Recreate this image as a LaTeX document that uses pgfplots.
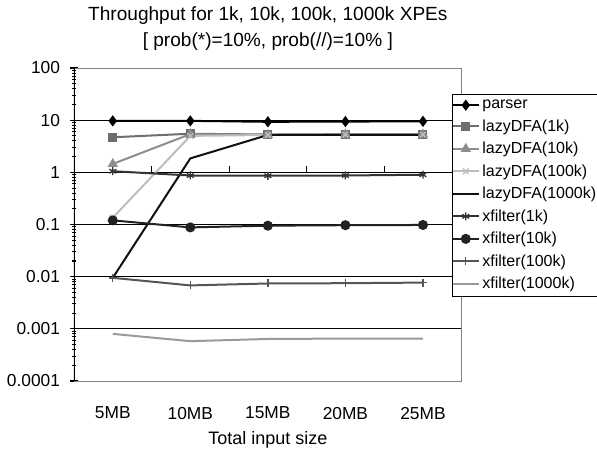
\documentclass[border=0pt]{standalone}
\usepackage{fontspec}
\setmainfont{Liberation Sans}
\usepackage{pgfplots}
\pgfplotsset{compat=1.18}

\definecolor{cParser}{HTML}{000000}
\definecolor{cL1}{HTML}{6E6E6E}
\definecolor{cL10}{HTML}{8E8E8E}
\definecolor{cL100}{HTML}{BDBDBD}
\definecolor{cL1000}{HTML}{111111}
\definecolor{cX1}{HTML}{333333}
\definecolor{cX10}{HTML}{222222}
\definecolor{cX100}{HTML}{555555}
\definecolor{cX1000}{HTML}{9A9A9A}

\begin{document}
\begin{tikzpicture}
\useasboundingbox (-55.5pt,-52.5pt) rectangle (392.25pt,285.75pt);
\begin{axis}[
  at={(0,0)}, anchor=south west,
  scale only axis,
  width=290.8pt, height=234.75pt,
  ymode=log,
  xmin=-0.5, xmax=4.5,
  ymin=1e-4, ymax=100,
  xtick={0,1,2,3,4},
  xticklabels={5MB,10MB,15MB,20MB,25MB},
  xtick style={draw=none},
  xticklabel style={font=\fontsize{13}{15}\selectfont, yshift=-13pt},
  ytick={1e-4,1e-3,0.01,0.1,1,10,100},
  yticklabels={0.0001,0.001,0.01,0.1,1,10,100},
  yticklabel style={font=\fontsize{13}{15}\selectfont, xshift=-4pt},
  ytick pos=left,
  minor ytick={},
  tick align=center,
  major tick length=6pt,
  ytick style={black, line width=0.8pt},
  ymajorgrids,
  grid style={black, line width=0.6pt},
  axis line style={gray},
  xlabel={Total input size},
  xlabel style={font=\fontsize{13.5}{15}\selectfont, yshift=-2pt},
  title={Throughput for 1k, 10k, 100k, 1000k XPEs\\{[} prob(*)=10\%, prob(//)=10\% {]}},
  title style={align=center, font=\fontsize{14.3}{19.5}\selectfont, yshift=4pt},
  legend style={at={(0.974,0.916)}, anchor=north west, draw=black, fill=white,
    font=\fontsize{12}{14}\selectfont, row sep=2.7pt, inner xsep=0pt},
  legend cell align=left,
  legend image code/.code={\draw[mark repeat=2,mark phase=2] plot coordinates {(0cm,0cm)(0.34cm,0cm)(0.68cm,0cm)};},
  every axis plot/.append style={line width=1.5pt},
  mark size=3pt,
]
\addplot[cParser, mark=diamond*, mark options={fill=cParser}] coordinates {
  (0,9.7) (1,9.7) (2,9.3) (3,9.4) (4,9.5)};
\addplot[cL1, mark=square*, mark size=2.6pt, mark options={fill=cL1}] coordinates {
  (0,4.7) (1,5.5) (2,5.3) (3,5.4) (4,5.4)};
\addplot[cL10, mark=triangle*, mark options={fill=cL10}] coordinates {
  (0,1.45) (1,5.4) (2,5.2) (3,5.3) (4,5.3)};
\addplot[cL100, mark=x, mark options={line width=1pt}] coordinates {
  (0,0.135) (1,5.0) (2,5.2) (3,5.3) (4,5.3)};
\addplot[cL1000, no markers] coordinates {
  (0,0.0095) (1,1.85) (2,5.2) (3,5.2) (4,5.2)};
\addplot[cX1, mark=asterisk, mark options={line width=1pt}] coordinates {
  (0,1.05) (1,0.87) (2,0.86) (3,0.87) (4,0.9)};
\addplot[cX10, mark=*, mark options={fill=cX10}] coordinates {
  (0,0.12) (1,0.088) (2,0.095) (3,0.097) (4,0.098)};
\addplot[cX100, mark=+, mark options={line width=1pt}] coordinates {
  (0,0.0095) (1,0.0068) (2,0.0074) (3,0.0075) (4,0.0077)};
\addplot[cX1000, no markers] coordinates {
  (0,0.0008) (1,0.00058) (2,0.00064) (3,0.00065) (4,0.00065)};
\legend{parser,lazyDFA(1k),lazyDFA(10k),lazyDFA(100k),lazyDFA(1000k),
  xfilter(1k),xfilter(10k),xfilter(100k),xfilter(1000k)}
% category axis crosses at 1, with its ticks between categories
\draw[black, line width=0.8pt] (axis cs:0.5,1) -- ++(0pt,4.5pt);
\draw[black, line width=0.8pt] (axis cs:1.5,1) -- ++(0pt,4.5pt);
\draw[black, line width=0.8pt] (axis cs:2.5,1) -- ++(0pt,4.5pt);
\draw[black, line width=0.8pt] (axis cs:3.5,1) -- ++(0pt,4.5pt);
\draw[black, line width=1pt] (axis description cs:0,0) -- (axis description cs:0,1);
\end{axis}
\end{tikzpicture}
\end{document}
